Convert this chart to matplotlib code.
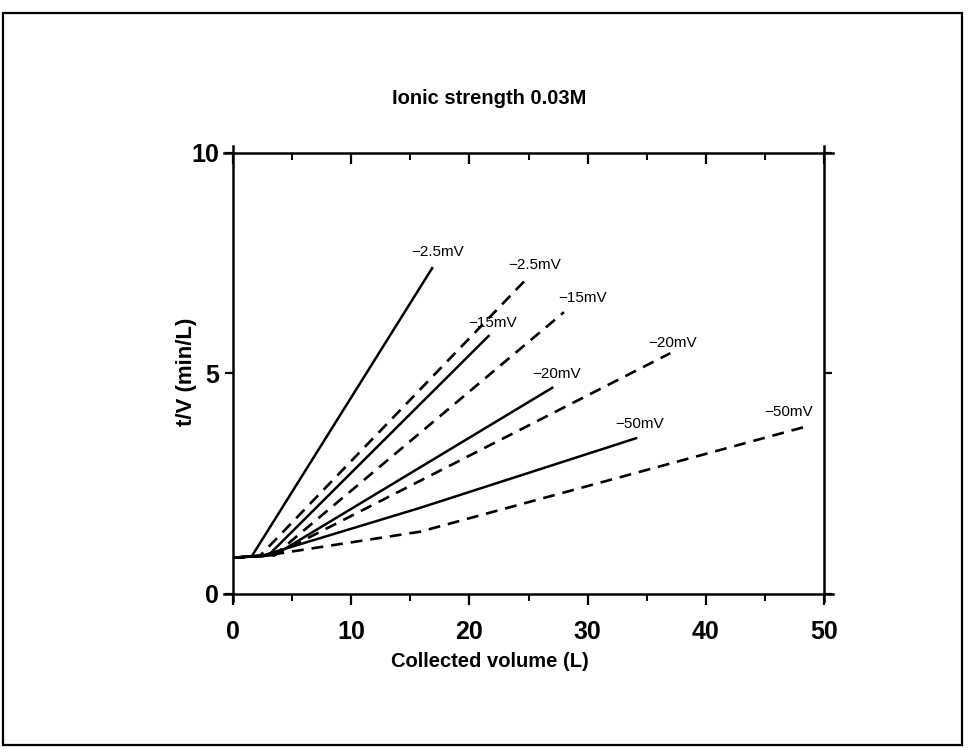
import matplotlib
matplotlib.use("Agg")
import matplotlib.pyplot as plt
from matplotlib.patches import Rectangle

plt.rcParams['font.family'] = ['Liberation Sans', 'DejaVu Sans']

# ---- data ----
series_names = ["−2.5mV", "−2.5mV", "−15mV", "−15mV", "−20mV", "−20mV", "−50mV", "−50mV"]
series_styles = ["solid", "dashed", "solid", "dashed", "solid", "dashed", "solid", "dashed"]

x_m25_solid = [0, 1.6, 16.9]
y_m25_solid = [0.82, 0.86, 7.41]
x_m25_dash = [0, 2.3, 25.0]
y_m25_dash = [0.82, 0.87, 7.19]
x_m15_solid = [0, 3.0, 21.7]
y_m15_solid = [0.82, 0.88, 5.87]
x_m15_dash = [0, 3.5, 28.0]
y_m15_dash = [0.82, 0.88, 6.39]
x_m20_solid = [0, 3.5, 27.1]
y_m20_solid = [0.82, 0.88, 4.69]
x_m20_dash = [0, 3.5, 37.0]
y_m20_dash = [0.82, 0.88, 5.46]
x_m50_solid = [0, 2.5, 15.8, 34.2]
y_m50_solid = [0.82, 0.87, 1.95, 3.54]
x_m50_dash = [0, 2.5, 15.8, 48.4]
y_m50_dash = [0.82, 0.86, 1.41, 3.79]

label_x = [17.3, 25.5, 22.0, 29.6, 27.4, 37.2, 34.4, 47.0]
label_y = [7.76, 7.46, 6.15, 6.71, 4.99, 5.69, 3.85, 4.13]

xs = [x_m25_solid, x_m25_dash, x_m15_solid, x_m15_dash,
      x_m20_solid, x_m20_dash, x_m50_solid, x_m50_dash]
ys = [y_m25_solid, y_m25_dash, y_m15_solid, y_m15_dash,
      y_m20_solid, y_m20_dash, y_m50_solid, y_m50_dash]

x_ticks = [0, 10, 20, 30, 40, 50]
y_ticks = [0, 5, 10]

# ---- figure ----
fig = plt.figure(figsize=(9.79, 7.49), dpi=100)
fig.patches.append(Rectangle((0.003, 0.006), 0.980, 0.977, transform=fig.transFigure,
                             fill=False, edgecolor='black', linewidth=1.6))
ax = fig.add_axes([0.238, 0.207, 0.6037, 0.5888])

for x, y, st in zip(xs, ys, series_styles):
    if st == "solid":
        ax.plot(x, y, color='black', lw=1.8, linestyle='-', solid_capstyle='butt')
    else:
        ax.plot(x, y, color='black', lw=1.9, linestyle=(0, (4.5, 3.0)))

for name, lx, ly in zip(series_names, label_x, label_y):
    ax.text(lx, ly, name, ha='center', va='center', fontsize=11)

ax.set_xlim(0, 50)
ax.set_ylim(0, 10)
ax.set_xticks(x_ticks)
ax.set_yticks(y_ticks)
ax.set_xticks([5, 15, 25, 35, 45], minor=True)
ax.tick_params(axis='x', which='major', direction='out', length=8, width=1.6,
               labelsize=18, pad=11, top=True)
ax.tick_params(axis='x', which='minor', direction='out', length=5, width=1.4, top=True)
ax.tick_params(axis='y', which='major', direction='out', length=6, width=1.6,
               labelsize=18, pad=4, right=True)
for lab in ax.get_xticklabels() + ax.get_yticklabels():
    lab.set_fontweight('bold')
# top ticks point inward
for t in ax.xaxis.get_major_ticks() + ax.xaxis.get_minor_ticks():
    t.tick2line.set_marker(3)  # TICKDOWN
for sp in ax.spines.values():
    sp.set_linewidth(1.8)
ax.spines['left'].set_bounds(-0.15, 10.15)
ax.spines['right'].set_bounds(-0.15, 10.15)
ax.spines['bottom'].set_bounds(-0.8, 50.8)
ax.spines['top'].set_bounds(-0.8, 50.8)

fig.text(0.500, 0.117, "Collected volume (L)", fontsize=14.5, fontweight='bold',
         ha='center', va='center')
fig.text(0.190, 0.503, "t/V (min/L)", fontsize=16, fontweight='bold',
         ha='center', va='center', rotation=90)
fig.text(0.500, 0.869, "Ionic strength 0.03M", fontsize=14.5, fontweight='bold',
         ha='center', va='center')

fig.savefig("out.png", dpi=100)
